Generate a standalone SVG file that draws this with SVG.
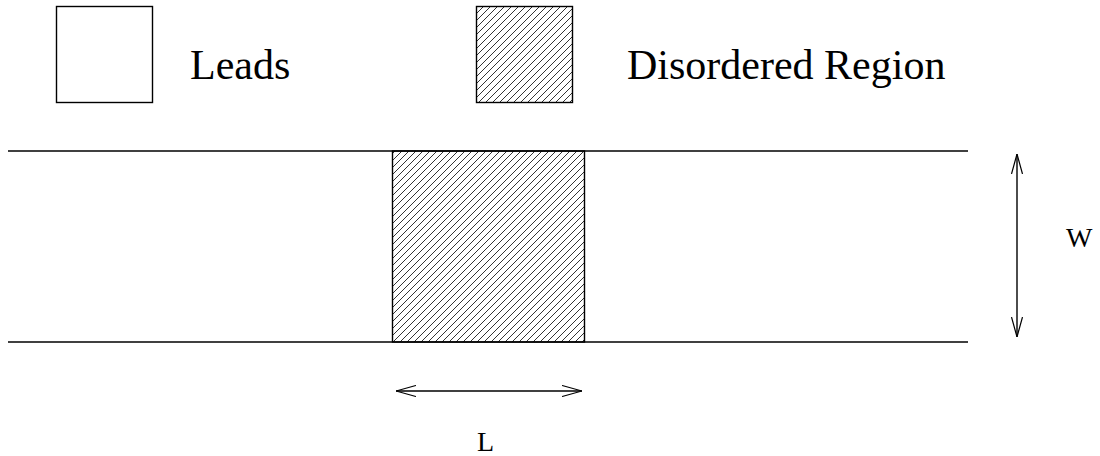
<svg xmlns="http://www.w3.org/2000/svg" width="1100" height="456" viewBox="0 0 1100 456">
<style>
.ln{stroke:#000;stroke-width:1.4;fill:none}
.box{stroke:#000;stroke-width:1.4}
.t{font-family:'Liberation Serif','Times New Roman',serif;fill:#000}
</style>
<defs>
<pattern id="hatch" patternUnits="userSpaceOnUse" width="7" height="7">
<path d="M0,7 L7,0 M-1,1 L1,-1 M6,8 L8,6" stroke="#000" stroke-width="0.8"/>
</pattern>
<marker id="ah" viewBox="0 0 20 12" refX="20" refY="6" markerWidth="20" markerHeight="12" markerUnits="userSpaceOnUse" orient="auto-start-reverse">
<path d="M0,0.5 L20,6 L0,11.5" fill="none" stroke="#000" stroke-width="1.2"/>
</marker>
</defs>
<rect width="1100" height="456" fill="#fff"/>
<g id="legend-leads">
<rect class="box" x="56.5" y="6.5" width="96" height="96" fill="#fff"/>
<text class="t" x="190" y="79" font-size="42">Leads</text>
</g>
<g id="legend-disordered">
<rect class="box" x="476.5" y="6.5" width="96" height="96" fill="url(#hatch)"/>
<text class="t" x="627" y="79" font-size="42">Disordered Region</text>
</g>
<g id="disordered-region">
<rect class="box" x="392.5" y="151" width="192" height="191" fill="url(#hatch)"/>
</g>
<g id="connectors">
<line class="ln" x1="8" y1="151" x2="968" y2="151"/>
<line class="ln" x1="8" y1="342" x2="968" y2="342"/>
<line class="ln" x1="1017" y1="154" x2="1017" y2="337" marker-start="url(#ah)" marker-end="url(#ah)"/>
<line class="ln" x1="396" y1="391" x2="582" y2="391" marker-start="url(#ah)" marker-end="url(#ah)"/>
</g>
<g id="labels">
<text class="t" x="1066" y="247" font-size="28">W</text>
<text class="t" x="477" y="451" font-size="28">L</text>
</g>
</svg>
